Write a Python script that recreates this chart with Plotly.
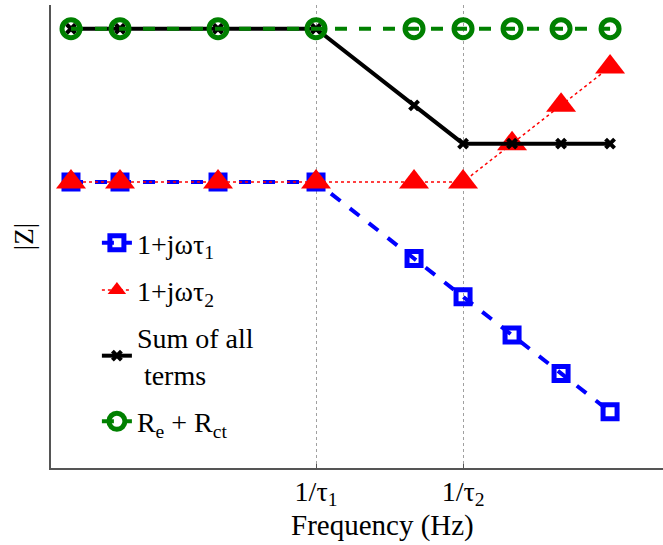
import plotly.graph_objects as go

# Frequency positions (arbitrary log-like units) and |Z| levels (log units)
freq = [0.5, 1, 2, 3, 4, 4.5, 5, 5.5, 6]
term_tau1 = [0, 0, 0, 0, -2, -3, -4, -5, -6]
term_tau2 = [0, 0, 0, 0, 0, 0, 1, 2, 3]
resistance = [4, 4, 4, 4, 4, 4, 4, 4, 4]
total = [4, 4, 4, 4, 2, 1, 1, 1, 1]

serif = "Liberation Serif"

corner_freqs = [3, 4.5]
corner_labels = ["1/τ<sub>1</sub>", "1/τ<sub>2</sub>"]

fig = go.Figure()

fig.add_trace(go.Scatter(
    x=freq, y=term_tau1, mode="lines+markers", name="1+jωτ<sub>1</sub>",
    legendgroup="a",
    line=dict(color="blue", width=4, dash="dash"),
    marker=dict(symbol="square-open", size=14, color="blue", line=dict(width=5, color="blue")),
))
fig.add_trace(go.Scatter(
    x=freq, y=term_tau2, mode="lines+markers", name="1+jωτ<sub>2</sub>",
    legendgroup="b",
    line=dict(color="red", width=1.5, dash="dot"),
    marker=dict(symbol="triangle-up", size=26, color="red", line=dict(width=0)),
))
fig.add_trace(go.Scatter(
    x=freq, y=total, mode="lines+markers", name="Sum of all<br> terms",
    legendgroup="c",
    line=dict(color="black", width=4),
    marker=dict(symbol="x-thin", size=9, color="black", line=dict(width=4, color="black")),
))
fig.add_trace(go.Scatter(
    x=freq, y=resistance, mode="lines+markers", name="R<sub>e</sub> + R<sub>ct</sub>",
    legendgroup="d",
    line=dict(color="green", width=4, dash="dash"),
    marker=dict(symbol="circle-open", size=18, color="green", line=dict(width=5, color="green")),
))

fig.add_annotation(
    text="Frequency (Hz)", xref="paper", yref="paper", x=0.541, y=-0.125,
    xanchor="center", yanchor="middle", showarrow=False,
    font=dict(family=serif, size=29),
)

fig.update_layout(
    width=663, height=545,
    margin=dict(l=51, r=0, t=5, b=77),
    paper_bgcolor="white", plot_bgcolor="white",
    font=dict(family=serif, size=28, color="black"),
    showlegend=True,
    legend=dict(
        x=0.075, y=0.54, xanchor="left", yanchor="top",
        bgcolor="rgba(0,0,0,0)", borderwidth=0,
        font=dict(family=serif, size=28),
        tracegroupgap=8,
    ),
    xaxis=dict(
        range=[0.296, 6.54],
        tickvals=corner_freqs, ticktext=corner_labels,
        tickfont=dict(family=serif, size=28),
        ticklabelstandoff=-3,
        showgrid=True, gridcolor="#a0a0a0", griddash="dot", gridwidth=1,
        showline=True, linecolor="#555555", linewidth=2,
        ticks="inside", ticklen=4, tickcolor="#555555",
        zeroline=False,
    ),
    yaxis=dict(
        range=[-7.47, 4.62],
        showticklabels=False, ticks="", showgrid=False, zeroline=False,
        showline=True, linecolor="#555555", linewidth=2,
        title=dict(text="|Z|", font=dict(family=serif, size=27), standoff=8),
    ),
)

fig.write_html("out.html")
